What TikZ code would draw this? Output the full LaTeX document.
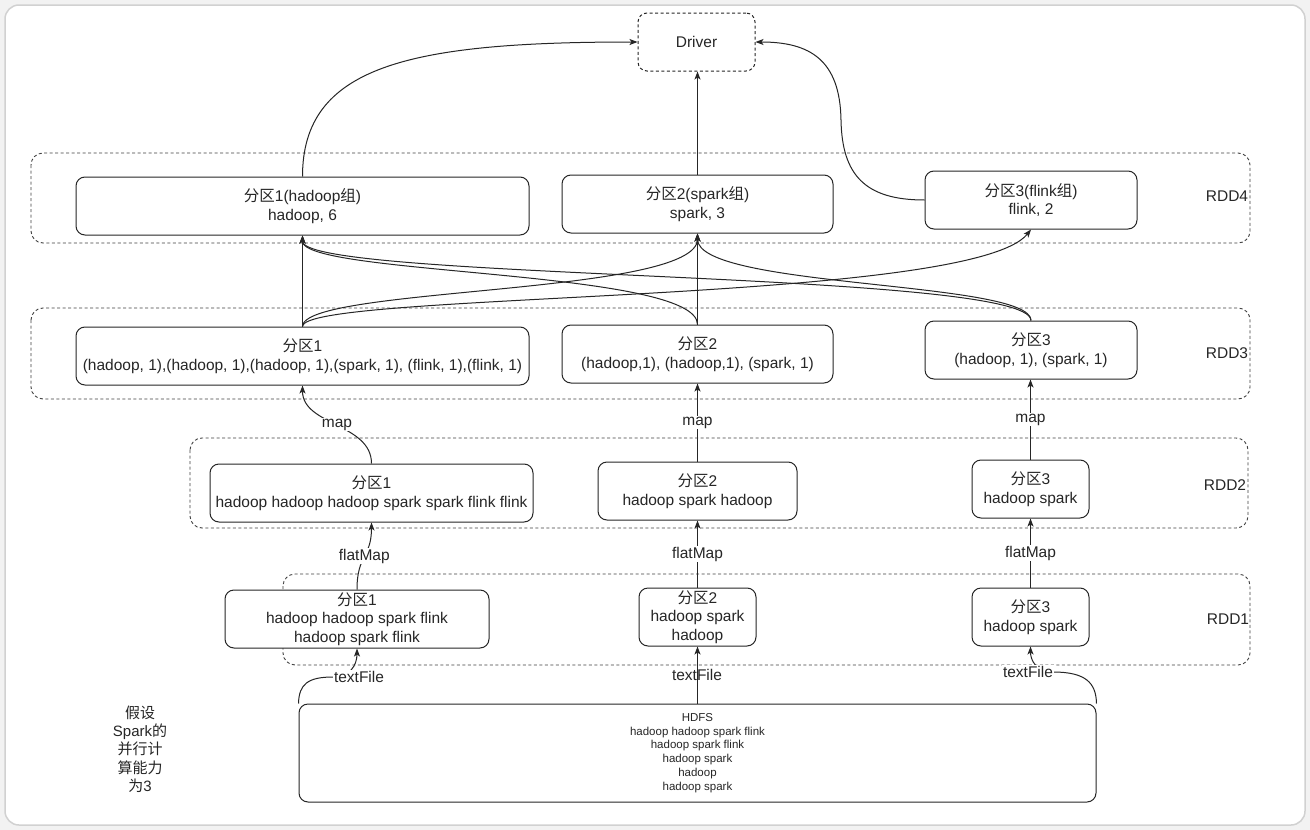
\documentclass[tikz,border=0pt]{standalone}
\usepackage{fontspec}
\setmainfont{Liberation Sans}
\newfontfamily\cjkfont{Noto Sans CJK SC}
\newcommand\zhtxt[1]{{\cjkfont #1}}
\usetikzlibrary{arrows.meta,calc}
\begin{document}
\begin{tikzpicture}[x=1pt,y=-1pt,
  box/.style={draw=black!85, line width=1pt, rounded corners=9pt, fill=white, align=center, inner sep=0pt, text=black!85, font=\fontsize{15.5}{18.6}\selectfont},
  grp/.style={draw=black!75, line width=0.9pt, dash pattern=on 3pt off 2.5pt, rounded corners=12pt},
  lbl/.style={font=\fontsize{15.5}{18.6}\selectfont, text=black!85, inner sep=1pt, align=center},
  elbl/.style={lbl, fill=white},
  arr/.style={draw=black!85, line width=1pt, -{Stealth[length=8pt,width=6pt,inset=2pt]}}
]
\useasboundingbox (0,0) rectangle (1310,830);
\fill[black!5] (0,0) rectangle (1310,830);
\draw[black!18, line width=1.5pt, fill=white, rounded corners=14pt] (5,5) rectangle (1305,825);

% containers
\draw[grp] (31,153) rectangle (1250,243);
\draw[grp] (31,308) rectangle (1250,399);
\draw[grp] (190,438) rectangle (1248,528);
\draw[grp] (283,574) rectangle (1250,665);

% RDD labels
\node[lbl] (r4) at (1227,196) {RDD4};
\node[lbl] (r3) at (1227,353) {RDD3};
\node[lbl] (r2) at (1225,485) {RDD2};
\node[lbl] (r1) at (1228,619) {RDD1};

% driver
\node[box, dash pattern=on 3pt off 2.5pt, minimum width=117pt, minimum height=58pt] (driver) at (696.5,42) {Driver};

% RDD4
\node[box, minimum width=453pt, minimum height=58pt] (p41) at (302.5,206) {\zhtxt{分区}1(hadoop\zhtxt{组})\\hadoop, 6};
\node[box, minimum width=271pt, minimum height=58pt] (p42) at (697.5,204) {\zhtxt{分区}2(spark\zhtxt{组})\\spark, 3};
\node[box, minimum width=212pt, minimum height=58pt] (p43) at (1031,200) {\zhtxt{分区}3(flink\zhtxt{组})\\flink, 2};

% RDD3
\node[box, minimum width=453pt, minimum height=58pt] (p31) at (302.5,356) {\zhtxt{分区}1\\(hadoop, 1),(hadoop, 1),(hadoop, 1),(spark, 1), (flink, 1),(flink, 1)};
\node[box, minimum width=271pt, minimum height=58pt] (p32) at (697.5,354) {\zhtxt{分区}2\\(hadoop,1), (hadoop,1), (spark, 1)};
\node[box, minimum width=212pt, minimum height=58pt] (p33) at (1031,350) {\zhtxt{分区}3\\(hadoop, 1), (spark, 1)};

% RDD2
\node[box, minimum width=323pt, minimum height=58pt] (p21) at (371.5,493) {\zhtxt{分区}1\\hadoop hadoop hadoop spark spark flink flink};
\node[box, minimum width=199pt, minimum height=58pt] (p22) at (697.5,491) {\zhtxt{分区}2\\hadoop spark hadoop};
\node[box, minimum width=117pt, minimum height=58pt] (p23) at (1030.5,489) {\zhtxt{分区}3\\hadoop spark};

% RDD1
\node[box, minimum width=264pt, minimum height=58pt] (p11) at (357,619) {\zhtxt{分区}1\\hadoop hadoop spark flink\\hadoop spark flink};
\node[box, minimum width=117pt, minimum height=58pt] (p12) at (697.5,617) {\zhtxt{分区}2\\hadoop spark\\hadoop};
\node[box, minimum width=117pt, minimum height=58pt] (p13) at (1030.5,617) {\zhtxt{分区}3\\hadoop spark};

% HDFS
\node[box, minimum width=797pt, minimum height=98pt, font=\fontsize{11.5}{13.8}\selectfont] (hdfs) at (697.5,753) {HDFS\\hadoop hadoop spark flink\\hadoop spark flink\\hadoop spark\\hadoop\\hadoop spark};

% note
\node[lbl, font=\fontsize{15}{18.3}\selectfont] (note) at (140,749) {\zhtxt{假设}\\Spark\zhtxt{的}\\\zhtxt{并行计}\\\zhtxt{算能力}\\\zhtxt{为}3};

% HDFS -> RDD1
\draw[arr] (hdfs.north west) .. controls (299,684) and (308,677) .. (333,677) .. controls (350,677) and (357,665) .. (p11.south);
\node[elbl] (tf1) at (359,677) {textFile};
\node[lbl] (tf2) at (697,675) {textFile};
\draw[arr] (hdfs.north -| p12) -- (p12.south);
\draw[arr] (hdfs.north east) .. controls (1096,683) and (1086,672) .. (1053,672) .. controls (1036,672) and (1030.5,660) .. (p13.south);
\node[elbl] (tf3) at (1028,672) {textFile};

% RDD1 -> RDD2
\draw[arr] (p11.north) .. controls +(0,-35) and +(0,35) .. node[elbl] (fm1) {flatMap} (p21.south);
\draw[arr] (p12.north) -- node[elbl] (fm2) {flatMap} (p22.south);
\draw[arr] (p13.north) -- node[elbl] (fm3) {flatMap} (p23.south);

% RDD2 -> RDD3
\draw[arr] (p21.north) .. controls +(0,-40) and +(0,40) .. node[elbl] (m1) {map} (p31.south);
\draw[arr] (p22.north) -- node[elbl] (m2) {map} (p32.south);
\draw[arr] (p23.north) -- node[elbl] (m3) {map} (p33.south -| p23);

% RDD3 -> RDD4
\draw[arr] (p31.north) -- (p41.south);
\draw[arr] (p32.north) -- (p42.south);
\draw[arr] (p31.north) .. controls +(0,-40) and +(0,62) .. (p42.south);
\draw[arr] (p31.north) .. controls +(0,-35) and +(-60,75) .. (p43.south);
\draw[arr] (p32.north) .. controls +(0,-55) and +(0,40) .. (p41.south);
\draw[arr] (p33.north) .. controls +(0,-50) and +(0,45) .. (p41.south);
\draw[arr] (p33.north) .. controls +(0,-40) and +(0,55) .. (p42.south);

% RDD4 -> Driver
\draw[arr] (p41.north) .. controls +(0,-110) and +(-230,0) .. (driver.west);
\draw[arr] (p42.north) -- (driver.south -| p42);
\draw[arr] (p43.west) .. controls (865,200) and (842,175) .. (841,120) .. controls (840,60) and (810,42) .. (driver.east);
\end{tikzpicture}
\end{document}
